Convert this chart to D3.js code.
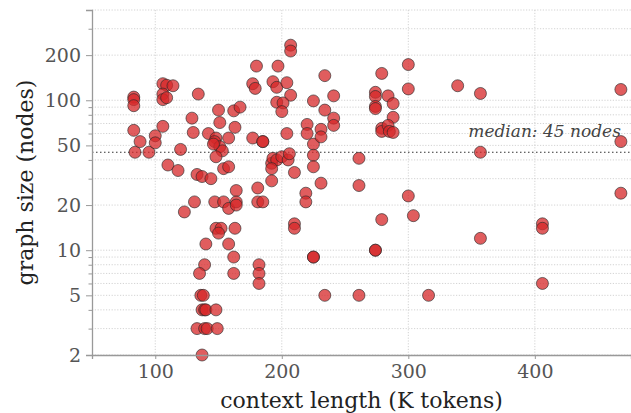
<!DOCTYPE html>
<html>
<head>
<meta charset="utf-8">
<script src="https://cdn.jsdelivr.net/npm/d3@7"></script>
<style>
  body { margin: 0; background: #fff; }
  svg { display: block; font-family: "DejaVu Serif", serif; }
</style>
</head>
<body>
<div id="chart"></div>
<script>
// context length (K tokens) per sample
const ctxLen = [
  83, 83, 83, 83, 84, 88, 95, 100, 100, 106, 109, 114, 106, 106, 109, 106, 110, 118,
  120, 129, 130, 134, 142, 133, 137, 144, 150, 151, 148, 147, 151, 153, 146, 148, 154, 158, 162, 167, 163, 158,
  123, 131, 147, 154, 158, 164, 164, 164, 148, 152, 150, 163, 140, 158, 162, 139, 135, 162, 136, 138, 137, 139, 140, 148, 133, 139, 141, 149, 137,
  177, 185, 185, 180, 177, 179, 197, 193, 196, 204, 207, 207, 207, 196, 201, 200, 204, 225, 220, 220,
  225, 225, 225, 192, 193, 196, 200, 205, 206, 192, 210, 192, 181, 219, 219,
  181, 185, 182, 182, 182, 210, 210, 225, 225,
  234, 241, 234, 241, 241, 231, 231, 231, 261, 261, 300, 300, 279, 274, 274, 274, 274, 284, 288, 288,
  279, 279, 284, 285, 288, 300, 339, 357, 357, 468, 468, 468, 279, 304, 274, 274, 234, 261, 316, 357,
  406, 406, 406
];
// graph size (nodes) per sample
const nodes = [
  105, 101, 92, 63, 45, 53, 45, 58, 52, 129, 126, 125, 110, 101, 104, 67, 37, 34,
  47, 76, 61, 110, 60, 32, 31, 30, 86, 71, 56, 53, 49, 46, 51, 42, 35, 36, 85, 90, 66, 56,
  18, 21, 21, 21, 19, 25, 21, 20, 14, 14, 13, 14, 11, 11, 9, 8, 7, 7, 5, 5, 4, 4, 4, 4, 3, 3, 3, 3, 2,
  56, 53, 53, 169, 129, 120, 169, 133, 122, 131, 233, 213, 108, 97, 96, 84, 60, 99, 69, 60,
  51, 43, 36, 38, 41, 40, 42, 40, 44, 35, 33, 29, 26, 24, 21,
  21, 21, 8, 7, 6, 15, 14, 9, 9,
  146, 107, 86, 76, 68, 64, 57, 28, 41, 27, 173, 119, 151, 113, 106, 91, 88, 107, 95, 77,
  65, 62, 68, 62, 61, 23, 125, 111, 45, 118, 53, 24, 16, 17, 10, 10, 5, 5, 5, 12,
  15, 14, 6
];
const xTicks = [100, 200, 300, 400];
const yTicks = [2, 5, 10, 20, 50, 100, 200];
const medianNodes = 45;
const medianLabel = "median: 45 nodes";

const W = 631, H = 413;
const margin = { top: 10, right: 0, bottom: 58, left: 92 };
const width = W - margin.left - margin.right;
const height = H - margin.top - margin.bottom;

const svg = d3.select("#chart").append("svg")
  .attr("width", W).attr("height", H);
const g = svg.append("g")
  .attr("transform", "translate(" + margin.left + "," + margin.top + ")");

const x = d3.scaleLinear().domain([50, 476]).range([0, width]);
const y = d3.scaleLog().domain([2, 400]).range([height, 0]);

// log minor values 2..9 per decade
let minorY = [];
[1, 10, 100].forEach(dec => {
  for (let k = 1; k <= 9; k++) {
    const v = k * dec;
    if (v >= 2 && v <= 400) minorY.push(v);
  }
});

// grid
g.append("g").selectAll("line").data(minorY).join("line")
  .attr("x1", 0).attr("x2", width)
  .attr("y1", d => y(d)).attr("y2", d => y(d))
  .attr("stroke", "#c8c8c8").attr("stroke-width", 0.8)
  .attr("stroke-dasharray", "1.2,1.6");
g.append("g").selectAll("line").data(xTicks).join("line")
  .attr("x1", d => x(d)).attr("x2", d => x(d))
  .attr("y1", 0).attr("y2", height)
  .attr("stroke", "#c8c8c8").attr("stroke-width", 0.8)
  .attr("stroke-dasharray", "1.2,1.6");

// median line
g.append("line")
  .attr("x1", 0).attr("x2", width)
  .attr("y1", y(medianNodes)).attr("y2", y(medianNodes))
  .attr("stroke", "#333").attr("stroke-width", 1.2)
  .attr("stroke-dasharray", "1.5,2.5");

g.append("text")
  .attr("x", x(468)).attr("y", y(medianNodes) - 15)
  .attr("text-anchor", "end")
  .attr("font-size", 17).attr("font-style", "italic")
  .attr("fill", "#444")
  .text(medianLabel);

// points
g.append("g").selectAll("circle").data(ctxLen).join("circle")
  .attr("cx", (d, i) => x(d))
  .attr("cy", (d, i) => y(nodes[i]))
  .attr("r", 6)
  .attr("fill", "rgba(214,39,40,0.75)")
  .attr("stroke", "rgba(40,40,40,0.7)")
  .attr("stroke-width", 0.9);

// axes
const yAxis = g.append("g")
  .call(d3.axisLeft(y).tickValues(yTicks).tickFormat(d3.format("d")).tickSize(6).tickPadding(5));
const yMinor = g.append("g")
  .call(d3.axisLeft(y).tickValues(minorY.filter(v => yTicks.indexOf(v) < 0)).tickFormat("").tickSize(3.5));
const xAxis = g.append("g")
  .attr("transform", "translate(0," + height + ")")
  .call(d3.axisBottom(x).tickValues(xTicks).tickSize(4).tickPadding(6));

[yAxis, yMinor, xAxis].forEach(a => {
  a.select(".domain").attr("stroke", "#999").attr("stroke-width", 1.3);
  a.selectAll(".tick line").attr("stroke", "#999").attr("stroke-width", 1);
  a.selectAll("text").attr("font-family", "DejaVu Serif").attr("font-size", 19).attr("fill", "#555");
});
yMinor.select(".domain").remove();

// axis titles
svg.append("text")
  .attr("x", margin.left + width / 2).attr("y", 408)
  .attr("text-anchor", "middle")
  .attr("font-size", 22).attr("fill", "#222")
  .text("context length (K tokens)");
svg.append("text")
  .attr("transform", "translate(33," + (margin.top + height / 2) + ") rotate(-90)")
  .attr("text-anchor", "middle")
  .attr("font-size", 22).attr("fill", "#222")
  .text("graph size (nodes)");
</script>
</body>
</html>
